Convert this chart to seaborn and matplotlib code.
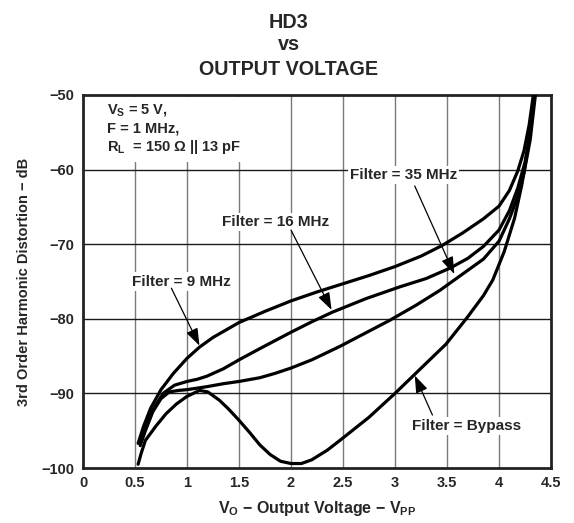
import matplotlib
matplotlib.use("Agg")
import matplotlib.pyplot as plt
import seaborn as sns
import pandas as pd

# ---- data ----
v_9 = [0.53, 0.58, 0.65, 0.75, 0.87, 1.0, 1.12, 1.25, 1.5, 1.75, 2.0, 2.25, 2.5, 2.75,
       3.0, 3.25, 3.45, 3.65, 3.85, 4.0, 4.1, 4.18, 4.24, 4.29, 4.33]
db_9 = [-96.7, -94.5, -92.0, -89.5, -87.3, -85.3, -83.8, -82.5, -80.5, -79.0, -77.6, -76.4,
        -75.3, -74.2, -73.0, -71.6, -70.2, -68.5, -66.6, -64.9, -62.8, -60.2, -57.5, -54.0, -50.0]

v_16 = [0.55, 0.6, 0.68, 0.77, 0.88, 1.0, 1.1, 1.19, 1.35, 1.5, 1.7, 2.0, 2.2, 2.4, 2.72, 3.05,
        3.3, 3.53, 3.7, 3.85, 4.0, 4.1, 4.18, 4.25, 4.3, 4.34]
db_16 = [-96.3, -94.0, -92.0, -90.0, -88.9, -88.4, -88.1, -87.7, -86.7, -85.5, -84.0, -81.8,
         -80.4, -79.1, -77.3, -75.7, -74.6, -73.2, -71.9, -70.3, -68.1, -65.5, -62.5, -59.0,
         -55.0, -50.0]

v_35 = [0.55, 0.6, 0.67, 0.75, 0.83, 0.92, 1.0, 1.19, 1.35, 1.5, 1.7, 1.85, 2.0, 2.2, 2.47,
        2.95, 3.2, 3.43, 3.62, 3.85, 4.0, 4.1, 4.17, 4.24, 4.3, 4.35]
db_35 = [-97.0, -95.0, -92.5, -90.7, -89.8, -89.6, -89.5, -89.1, -88.7, -88.4, -87.9, -87.3,
         -86.6, -85.5, -83.7, -80.2, -78.2, -76.2, -74.3, -72.0, -69.6, -66.6, -64.0, -60.5,
         -56.0, -50.0]

v_byp = [0.53, 0.56, 0.6, 0.7, 0.8, 0.9, 1.0, 1.12, 1.2, 1.31, 1.4, 1.5, 1.6, 1.7, 1.8, 1.9,
         2.0, 2.1, 2.2, 2.35, 2.47, 2.75, 3.0, 3.2, 3.49, 3.69, 3.85, 3.94, 4.05, 4.15, 4.22,
         4.28, 4.34]
db_byp = [-99.5, -98.0, -96.3, -94.4, -92.7, -91.4, -90.4, -89.6, -89.8, -90.9, -92.1, -93.6,
          -95.2, -96.9, -98.2, -99.1, -99.4, -99.4, -98.9, -97.6, -96.3, -93.2, -90.0, -87.3,
          -83.4, -79.9, -76.9, -74.8, -71.0, -66.5, -62.0, -57.0, -50.0]

x_ticks = [0, 0.5, 1, 1.5, 2, 2.5, 3, 3.5, 4, 4.5]
x_tick_labels = ["0", "0.5", "1", "1.5", "2", "2.5", "3", "3.5", "4", "4.5"]
y_ticks = [-100, -90, -80, -70, -60, -50]
y_tick_labels = ["\u2212100", "\u221290", "\u221280", "\u221270", "\u221260", "\u221250"]

frames = []
for name, v, d in [("9 MHz", v_9, db_9), ("16 MHz", v_16, db_16),
                   ("35 MHz", v_35, db_35), ("Bypass", v_byp, db_byp)]:
    frames.append(pd.DataFrame({"V": v, "dB": d, "series": name}))
df = pd.concat(frames, ignore_index=True)

# ---- style ----
sns.set_style("white")
plt.rcParams["font.family"] = ["Liberation Sans", "DejaVu Sans"]
plt.rcParams["font.weight"] = "bold"
plt.rcParams["mathtext.fontset"] = "custom"
plt.rcParams["mathtext.rm"] = "Liberation Sans:bold"
plt.rcParams["mathtext.it"] = "Liberation Sans:bold"
plt.rcParams["mathtext.bf"] = "Liberation Sans:bold"

fig = plt.figure(figsize=(5.74, 5.23), dpi=100)
ax = fig.add_axes([83 / 574, 1 - 468 / 523, (551 - 83) / 574, (468 - 95) / 523])

sns.lineplot(data=df, x="V", y="dB", units="series", estimator=None, sort=False,
             color="black", lw=2.3, ax=ax, legend=False, zorder=3)

ax.set_xlim(0, 4.5)
ax.set_ylim(-100, -50)
ax.set_xticks(x_ticks)
ax.set_xticklabels(x_tick_labels, fontsize=10.5, fontweight="bold")
ax.set_yticks(y_ticks)
ax.set_yticklabels(y_tick_labels, fontsize=10.5, fontweight="bold")
ax.tick_params(axis="both", length=0, pad=6)

for xv in x_ticks[1:-1]:
    ax.axvline(xv, color="#7a7a7a", lw=1.0, zorder=1)
for yv in y_ticks[1:-1]:
    ax.axhline(yv, color="#1a1a1a", lw=1.0, zorder=1)

for s in ax.spines.values():
    s.set_color("#222222")
    s.set_linewidth(2.0)

ax.set_xlabel(r"V$_\mathrm{O}$ $-$ Output Voltage $-$ V$_\mathrm{PP}$", fontsize=11.5,
              fontweight="bold", labelpad=6)
ax.set_ylabel("3rd Order Harmonic Distortion \u2212 dB", fontsize=10.5,
              fontweight="bold", labelpad=8)

# title
fig.text(0.503, 1 - 27.5 / 523, "HD3", ha="center", va="baseline", fontsize=14.2, fontweight="bold")
fig.text(0.503, 1 - 50 / 523, "vs", ha="center", va="baseline", fontsize=14.2, fontweight="bold")
fig.text(0.503, 1 - 75 / 523, "OUTPUT VOLTAGE", ha="center", va="baseline", fontsize=14.2,
         fontweight="bold")

# conditions box
ax.text(0.23, -51.0,
        "V$_\\mathrm{S}$ = 5 V,\nF = 1 MHz,\nR$_\\mathrm{L}$  = 150 \u03a9 || 13 pF",
        ha="left", va="top", fontsize=10.5, fontweight="bold", linespacing=1.25,
        bbox=dict(facecolor="white", edgecolor="none", pad=4), zorder=4)

box = dict(facecolor="white", edgecolor="none", pad=1.5)
arrow = dict(arrowstyle="-|>,head_length=0.7,head_width=0.25", color="black", lw=0.9,
             mutation_scale=15, shrinkA=0, shrinkB=0)

labels = [
    ("Filter = 9 MHz", (0.95, -75.0), (0.85, -75.9), (1.12, -83.6), "center"),
    ("Filter = 16 MHz", (1.85, -67.0), (2.0, -68.1), (2.39, -78.8), "center"),
    ("Filter = 35 MHz", (3.08, -60.7), (3.19, -62.2), (3.57, -74.0), "center"),
    ("Filter = Bypass", (3.16, -94.4), (3.36, -92.9), (3.19, -87.6), "left"),
]
for txt, tpos, start, tip, ha in labels:
    ax.text(tpos[0], tpos[1], txt, ha=ha, va="center", fontsize=11, fontweight="bold",
            bbox=box, zorder=4)
    ax.annotate("", xy=tip, xytext=start, arrowprops=arrow, zorder=5)

fig.savefig("out.png", dpi=100)
